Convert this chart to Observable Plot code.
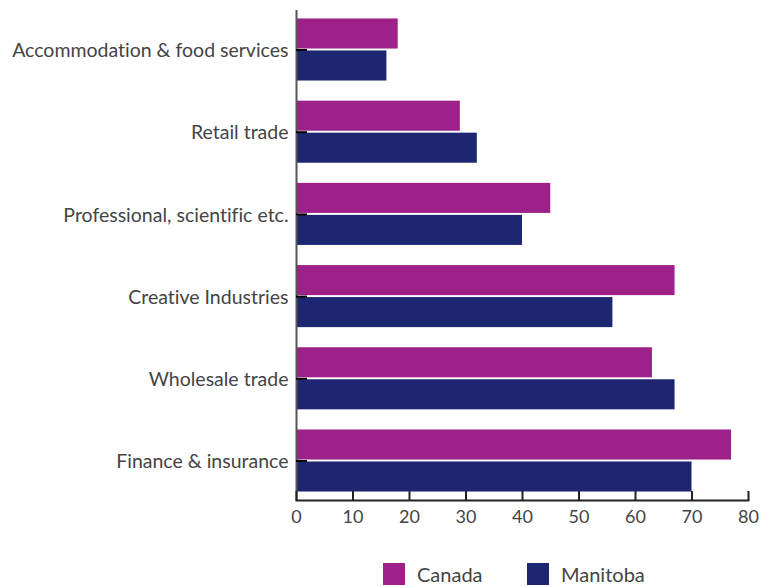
<!DOCTYPE html>
<html>
<head>
<meta charset="utf-8">
<script src="https://cdn.jsdelivr.net/npm/d3@7"></script>
<script src="https://cdn.jsdelivr.net/npm/@observablehq/plot@0.6"></script>
<style>
  body { margin: 0; background: #fff; font-family: Lato, sans-serif; }
  #chart svg { display: block; font-variant-ligatures: none; }
  .legend { display: flex; padding-left: 383px; margin-top: 18px; font-family: Lato, sans-serif; font-size: 20px; line-height: 22px; color: #444; }
  .legend .item { display: flex; align-items: center; width: 144px; }
  .legend .sw { width: 22px; height: 22px; margin-right: 12px; }
</style>
</head>
<body>
<div id="chart"></div>
<script>
const categories = ["Accommodation & food services", "Retail trade", "Professional, scientific etc.", "Creative Industries", "Wholesale trade", "Finance & insurance"];
const series = ["Canada", "Manitoba"];
const canada = [18, 29, 45, 67, 63, 77];
const manitoba = [16, 32, 40, 56, 67, 70];
const xTicks = [0, 10, 20, 30, 40, 50, 60, 70, 80];
const colors = ["#9e2189", "#1c2671"];

const rows = categories.flatMap((c, i) => [
  {category: c, series: series[0], value: canada[i]},
  {category: c, series: series[1], value: manitoba[i]}
]);

const plot = Plot.plot({
  width: 760,
  height: 545,
  marginLeft: 296,
  marginRight: 12,
  marginTop: 10,
  marginBottom: 45,
  style: {fontFamily: "Lato, sans-serif", fontSize: "18px", color: "#444", background: "#fff"},
  x: {domain: [0, 80], ticks: xTicks, label: null},
  y: {domain: categories, paddingInner: 0.245, paddingOuter: 0.103, round: false, label: null},
  color: {domain: series, range: colors},
  marks: [
    Plot.barX(rows.filter(d => d.series === series[0]), {x: "value", y: "category", fill: "series", insetBottom: 32}),
    Plot.barX(rows.filter(d => d.series === series[1]), {x: "value", y: "category", fill: "series", insetTop: 32}),
    Plot.ruleX([0], {stroke: "#555", strokeWidth: 2}),
    Plot.frame({anchor: "bottom", stroke: "#222", strokeWidth: 2}),
    Plot.axisY({tickSize: 0, tickPadding: 8, fill: "#444", fontSize: 19.5, dy: 1, label: null}),
    Plot.axisY({tickSize: -11, stroke: "#000", strokeWidth: 2, fill: "none", label: null}),
    Plot.axisX(xTicks, {tickSize: 0, tickPadding: 10, fill: "#444", label: null}),
    Plot.axisX(xTicks, {tickSize: -9, stroke: "#222", strokeWidth: 2, fill: "none", label: null})
  ]
});
document.getElementById("chart").appendChild(plot);

const legend = document.createElement("div");
legend.className = "legend";
series.forEach((s, i) => {
  const item = document.createElement("div");
  item.className = "item";
  const sw = document.createElement("span");
  sw.className = "sw";
  sw.style.background = colors[i];
  const t = document.createElement("span");
  t.textContent = s;
  item.appendChild(sw);
  item.appendChild(t);
  legend.appendChild(item);
});
document.getElementById("chart").appendChild(legend);
</script>
</body>
</html>
